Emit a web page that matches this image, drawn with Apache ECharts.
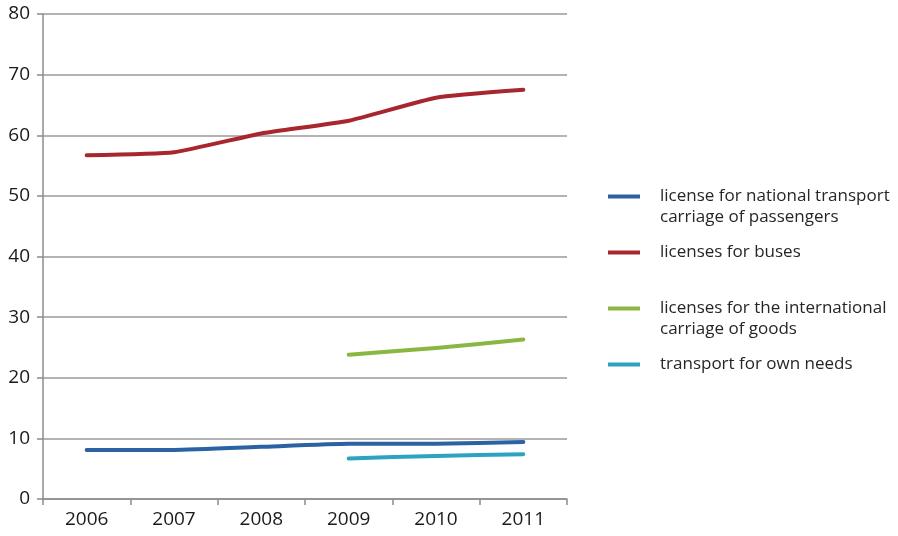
<!DOCTYPE html>
<html>
<head>
	<meta charset="utf-8">
	<title>licenses</title>
	<script src="https://cdn.jsdelivr.net/npm/echarts@6/dist/echarts.min.js"></script>
	<style>
		html, body { margin: 0; padding: 0; background: #fff; }
		#main { width: 898px; height: 536px; }
	</style>
</head>
<body>
<div id="main"></div>
<script type="text/javascript">
	var years = ['2006', '2007', '2008', '2009', '2010', '2011'];
	var yTicks = [0, 10, 20, 30, 40, 50, 60, 70, 80];

	var nationalTransport = [8.1, 8.1, 8.6, 9.1, 9.1, 9.4];
	var buses = [56.7, 57.2, 60.3, 62.4, 66.2, 67.5];
	var internationalGoods = [null, null, null, 23.8, 24.9, 26.3];
	var ownNeeds = [null, null, null, 6.7, 7.1, 7.4];

	var names = [
		'license for national transport\ncarriage of passengers',
		'licenses for buses',
		'licenses for the international\ncarriage of goods',
		'transport for own needs'
	];
	var colors = ['#2a62a3', '#a8262d', '#8ab742', '#2ea3bf'];
	var values = [nationalTransport, buses, internationalGoods, ownNeeds];

	var myChart = echarts.init(document.getElementById('main'));

	var seriesList = [];
	values.forEach(function (data, i) {
		seriesList.push({
			name: names[i],
			type: 'line',
			data: data,
			showSymbol: false,
			symbol: 'none',
			smooth: 0.15,
			color: colors[i],
			lineStyle: { width: 4, color: colors[i], cap: 'round', join: 'round' },
			z: i == 1 ? 3 : 2
		});
	});

	var option = {
		animation: false,
		textStyle: { fontFamily: 'Open Sans' },
		grid: { left: 43, right: 331, top: 14, bottom: 37 },
		legend: {
			orient: 'vertical',
			left: 603,
			top: 160,
			icon: 'rect',
			itemWidth: 32,
			itemHeight: 4,
			itemGap: 14,
			data: names,
			formatter: function (name) {
				// keep the icon level with the first line of a wrapped label
				return name.indexOf('\n') >= 0 ? '\n' + name : name;
			},
			textStyle: {
				fontSize: 17,
				lineHeight: 21,
				color: '#262626',
				padding: [0, 0, 0, 15]
			}
		},
		xAxis: {
			type: 'category',
			data: years,
			boundaryGap: true,
			axisLine: { lineStyle: { color: '#8c8c8c', width: 1.5 } },
			axisTick: { show: true, length: 6, lineStyle: { color: '#8c8c8c', width: 1.5 } },
			axisLabel: { fontSize: 19, color: '#1a1a1a', margin: 11 }
		},
		yAxis: {
			type: 'value',
			min: 0,
			max: 80,
			interval: 10,
			axisLine: { show: true, lineStyle: { color: '#8c8c8c', width: 1.5 } },
			axisTick: { show: true, length: 6, lineStyle: { color: '#8c8c8c', width: 1.5 } },
			axisLabel: {
				fontSize: 19, color: '#1a1a1a', margin: 13,
				formatter: function (v) { return yTicks.indexOf(v) >= 0 ? String(v) : ''; }
			},
			splitLine: { lineStyle: { color: '#9a9a9a', width: 1.5 } }
		},
		series: seriesList
	};
	myChart.setOption(option);
</script>
</body>
</html>
